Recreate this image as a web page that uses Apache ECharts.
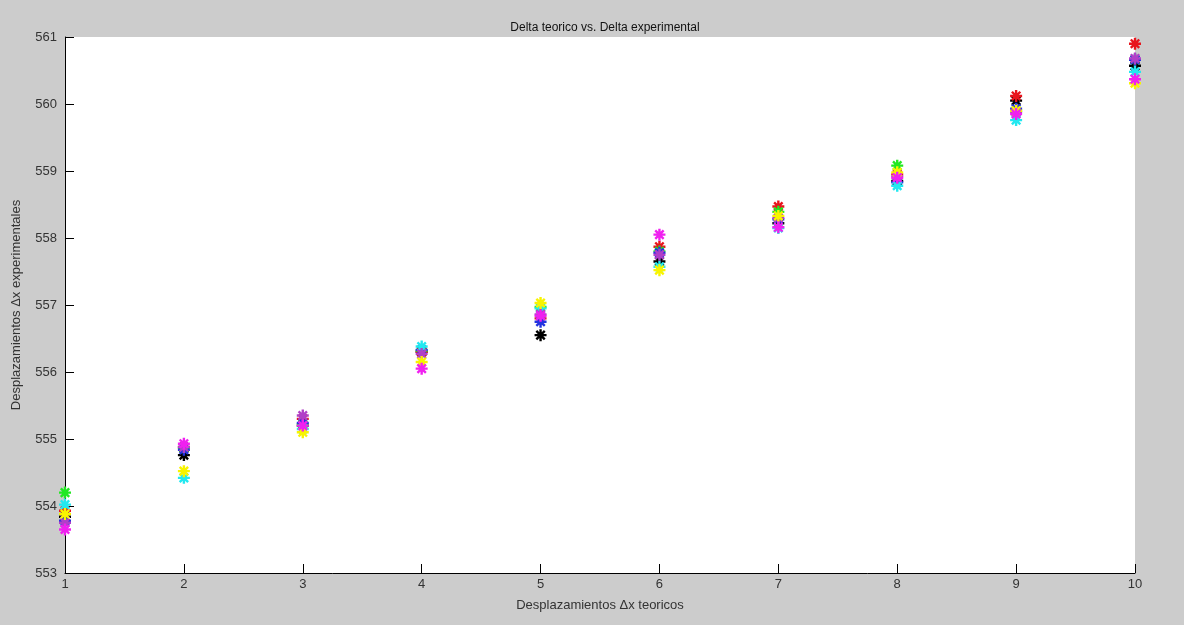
<!DOCTYPE html>
<html>
<head>
<meta charset="utf-8">
<script src="https://cdn.jsdelivr.net/npm/echarts@6/dist/echarts.min.js"></script>
<style>
  html, body { margin: 0; padding: 0; background: #cccccc; }
  #chart { width: 1184px; height: 625px; }
</style>
</head>
<body>
<div id="chart"></div>
<script>
// Theoretical displacements (x) and measured displacements per run (y)
const xTeorico = [1, 2, 3, 4, 5, 6, 7, 8, 9, 10];
const runNegro    = [553.84, 554.76, 555.20, 556.30, 556.55, 557.65, 558.22, 558.85, 560.05, 560.57];
const runRojo     = [553.93, 554.88, 555.30, 556.30, 556.80, 557.87, 558.47, 558.95, 560.12, 560.90];
const runVerde    = [554.20, 554.87, 555.22, 556.32, 556.97, 557.80, 558.39, 559.08, 559.90, 560.66];
const runAzul     = [553.78, 554.84, 555.24, 556.33, 556.75, 557.78, 558.28, 558.83, 559.93, 560.66];
const runCian     = [554.02, 554.42, 555.15, 556.38, 556.95, 557.57, 558.15, 558.78, 559.76, 560.48];
const runMorado   = [553.75, 554.88, 555.35, 556.27, 556.86, 557.75, 558.30, 558.92, 559.88, 560.68];
const runAmarillo = [553.88, 554.52, 555.10, 556.15, 557.03, 557.52, 558.33, 558.98, 559.90, 560.31];
const runMagenta  = [553.65, 554.93, 555.20, 556.05, 556.84, 558.05, 558.16, 558.90, 559.85, 560.37];
const yTicks = [553, 554, 555, 556, 557, 558, 559, 560, 561];

const runs = [
  { data: runNegro,    color: '#000000' },
  { data: runRojo,     color: '#e8141c' },
  { data: runVerde,    color: '#22e822' },
  { data: runAzul,     color: '#2233e0' },
  { data: runCian,     color: '#22e8f0' },
  { data: runMorado,   color: '#b040c8' },
  { data: runAmarillo, color: '#f8f400' },
  { data: runMagenta,  color: '#f020f0' }
];

// Asterisk marker drawn as stroked lines
const asterisk = 'path://M0,-10 L0,10 M-10,0 L10,0 M-7,-7 L7,7 M-7,7 L7,-7';

const chart = echarts.init(document.getElementById('chart'));
const labelFont = { fontFamily: 'Liberation Sans, Arial, sans-serif', fontSize: 13, color: '#333333' };

chart.setOption({
  backgroundColor: '#cccccc',
  animation: false,
  title: {
    text: 'Delta teorico vs. Delta experimental',
    left: 600, top: 17, textAlign: 'center',
    textStyle: { fontFamily: 'Liberation Sans, Arial, sans-serif', fontSize: 12, fontWeight: 'normal', color: '#111' }
  },
  grid: { left: 65, right: 49, top: 37, bottom: 52, show: true, backgroundColor: '#ffffff', borderWidth: 0 },
  xAxis: {
    type: 'value', min: 1, max: 10, interval: 1,
    name: 'Desplazamientos Δx teoricos', nameLocation: 'middle', nameGap: 26,
    nameTextStyle: labelFont,
    axisLine: { show: true, onZero: false, lineStyle: { color: '#000', width: 1 } },
    axisTick: { show: true, inside: true, length: 9, lineStyle: { color: '#000' } },
    axisLabel: Object.assign({ margin: 5 }, labelFont),
    splitLine: { show: false }
  },
  yAxis: {
    type: 'value', min: yTicks[0], max: yTicks[yTicks.length - 1], interval: 1,
    name: 'Desplazamientos Δx experimentales', nameLocation: 'middle', nameGap: 42,
    nameTextStyle: labelFont,
    axisLine: { show: true, onZero: false, lineStyle: { color: '#000', width: 1 } },
    axisTick: { show: true, inside: true, length: 9, lineStyle: { color: '#000' } },
    axisLabel: Object.assign({ margin: 8 }, labelFont),
    splitLine: { show: false }
  },
  series: runs.map(r => ({
    type: 'scatter',
    data: xTeorico.map((x, i) => [x, r.data[i]]),
    symbol: asterisk,
    symbolSize: 12,
    clip: false,
    itemStyle: { color: r.color, borderColor: r.color, borderWidth: 2.4, opacity: 1 }
  }))
});
</script>
</body>
</html>
